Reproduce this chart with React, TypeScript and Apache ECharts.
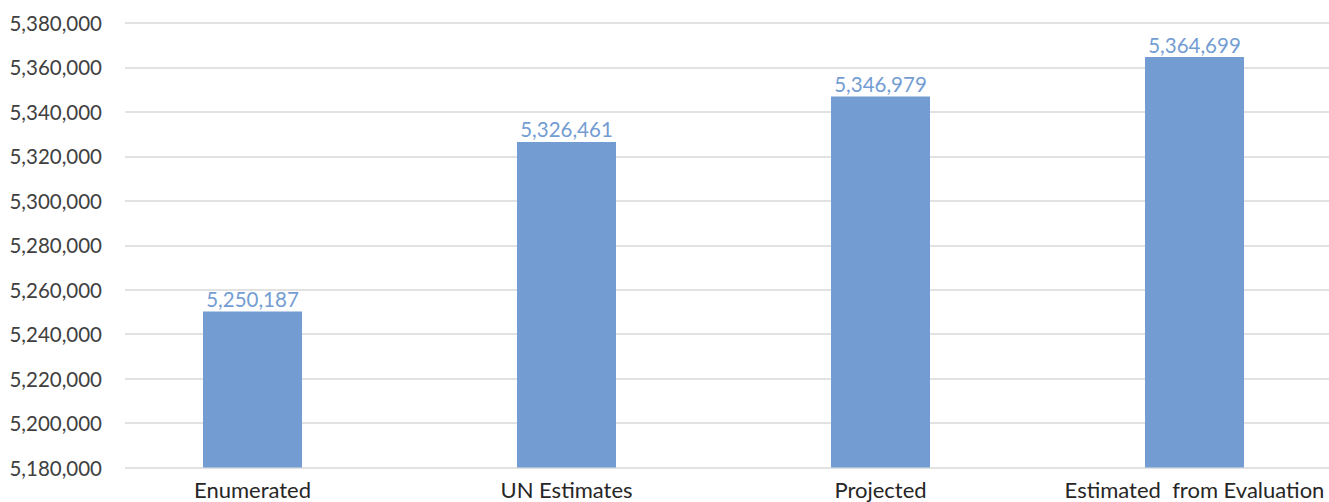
import React, { useEffect, useRef } from "react";
import * as echarts from "echarts";

const categories = ["Enumerated", "UN Estimates", "Projected", "Estimated  from Evaluation"];
const values = [5250187, 5326461, 5346979, 5364699];
const yMin = 5180000;
const yMax = 5380000;
const yInterval = 20000;

const fmt = (v: number) => v.toLocaleString("en-US");
const FONT = "Lato, 'Open Sans', sans-serif";

export default function App() {
  const ref = useRef<HTMLDivElement>(null);
  useEffect(() => {
    document.body.style.margin = "0";
    document.body.style.overflow = "hidden";
    const chart = echarts.init(ref.current!, null, { renderer: "svg" });
    chart.setOption({
      animation: false,
      backgroundColor: "#ffffff",
      grid: [
        { left: 125, right: 0, top: 23, bottom: 34.5 },
        { left: 252.5, width: 942, top: 23, bottom: 34.5 },
      ],
      xAxis: [
        { type: "category", gridIndex: 0, data: categories, show: false },
        {
          type: "category",
          gridIndex: 1,
          data: categories,
          boundaryGap: false,
          axisLine: { show: false },
          axisTick: { show: false },
          axisLabel: { color: "#262626", fontSize: 22, fontFamily: FONT, margin: 11, interval: 0 },
        },
      ],
      yAxis: [
        {
          type: "value",
          gridIndex: 0,
          min: yMin,
          max: yMax,
          interval: yInterval,
          axisLine: { show: false },
          axisTick: { show: false },
          axisLabel: { color: "#404040", fontSize: 20.5, fontFamily: FONT, margin: 23, formatter: (v: number) => fmt(v) },
          splitLine: { lineStyle: { color: "#d9d9d9", width: 1.5 } },
        },
        {
          type: "value",
          gridIndex: 1,
          min: yMin,
          max: yMax,
          startValue: yMin,
          interval: yInterval,
          show: false,
          splitLine: { show: false },
        },
      ],
      series: [
        {
          type: "bar",
          xAxisIndex: 1,
          yAxisIndex: 1,
          data: values,
          barWidth: 99,
          clip: false,
          itemStyle: { color: "#739dd2" },
          label: {
            show: true,
            position: "top",
            distance: 2,
            color: "#739dd2",
            fontSize: 20.5,
            fontFamily: FONT,
            formatter: (p: any) => fmt(p.value),
          },
        },
      ],
    });
    return () => chart.dispose();
  }, []);
  return <div ref={ref} style={{ width: 1329, height: 502, position: "absolute", left: 0, top: 0 }} />;
}
